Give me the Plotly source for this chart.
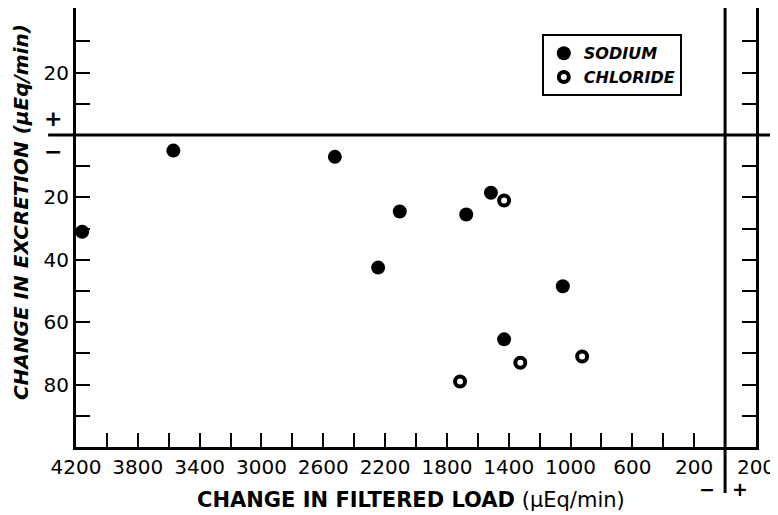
import plotly.graph_objects as go

# Data (change in filtered load, change in excretion; µEq/min; negative = decrease)
sodium_load = [-4160, -3570, -2525, -2245, -2105, -1675, -1515, -1050, -1430]
sodium_excr = [-31, -5, -7, -42.5, -24.5, -25.5, -18.5, -48.5, -65.5]
chloride_load = [-1430, -1325, -925, -1715]
chloride_excr = [-21, -73, -71, -79]

x_tickvals = list(range(-4200, 201, 200))
x_labels = {-4200: "4200", -3800: "3800", -3400: "3400", -3000: "3000", -2600: "2600",
            -2200: "2200", -1800: "1800", -1400: "1400", -1000: "1000", -600: "600",
            -200: "200", 200: "200"}
y_tickvals = [v for v in range(-90, 31, 10) if v != 0]
y_labels = {20: "20", -20: "20", -40: "40", -60: "60", -80: "80"}

FONT = "DejaVu Sans"

fig = go.Figure()
fig.add_trace(go.Scatter(x=sodium_load, y=sodium_excr, mode="markers", name="SODIUM",
                         marker=dict(symbol="circle", size=14, color="black")))
fig.add_trace(go.Scatter(x=chloride_load, y=chloride_excr, mode="markers", name="CHLORIDE",
                         marker=dict(symbol="circle-open", size=10, color="black",
                                     line=dict(width=4, color="black"))))

# page body adds an 8px offset; figure is sized to fit the window
fig.update_layout(
    width=770, height=507,
    margin=dict(l=68, r=22, t=0, b=68, pad=0, autoexpand=False),
    paper_bgcolor="white", plot_bgcolor="white",
    font=dict(family=FONT, color="black"),
    showlegend=True,
    legend=dict(x=0.685, y=0.94, xanchor="left", yanchor="top",
                bordercolor="black", borderwidth=2, bgcolor="white",
                font=dict(family=FONT, size=16, weight="bold", style="italic"),
                tracegroupgap=0),
    xaxis=dict(range=[-4200, 200], tickvals=x_tickvals,
               ticktext=[x_labels.get(v, "") for v in x_tickvals],
               ticks="inside", ticklen=14, tickwidth=2, tickcolor="black",
               showline=True, linewidth=3, linecolor="black", mirror=True,
               showgrid=False, zeroline=False, automargin=False,
               tickfont=dict(family=FONT, size=20)),
    yaxis=dict(range=[-100, 40.7], tickvals=y_tickvals,
               ticktext=[y_labels.get(v, "") for v in y_tickvals],
               ticks="inside", ticklen=14, tickwidth=2, tickcolor="black",
               showline=True, linewidth=3, linecolor="black", mirror="ticks",
               showgrid=False, zeroline=False, automargin=False,
               tickfont=dict(family=FONT, size=20)),
)

# zero lines extending beyond the frame
fig.add_shape(type="line", xref="paper", yref="y", x0=-0.041, x1=1.06, y0=0, y1=0,
              line=dict(color="black", width=3))
fig.add_shape(type="line", xref="x", yref="paper", x0=0, x1=0, y0=-0.105, y1=1.03,
              line=dict(color="black", width=3))

# sign annotations
for txt, yv in [("+", 5.4), ("\u2212", -5.4)]:
    fig.add_annotation(text="<b>%s</b>" % txt, xref="paper", yref="y", x=-0.034, y=yv,
                       xanchor="center", yanchor="middle",
                       showarrow=False, font=dict(family=FONT, size=22))
for txt, xv in [("\u2212", -116), ("+", 97)]:
    fig.add_annotation(text="<b>%s</b>" % txt, xref="x", yref="paper", x=xv, y=-0.0957,
                       xanchor="center", yanchor="middle",
                       showarrow=False, font=dict(family=FONT, size=19))

# axis titles
fig.add_annotation(text="<b>CHANGE IN FILTERED LOAD</b> (\u03bcEq/min)", xref="paper", yref="paper",
                   x=0.493, y=-0.121, xanchor="center", yanchor="middle", showarrow=False,
                   font=dict(family=FONT, size=21))
fig.add_annotation(text="<b><i>CHANGE IN EXCRETION (\u03bcEq/min)</i></b>", xref="paper", yref="paper",
                   x=-0.081, y=0.535, xanchor="center", yanchor="middle", showarrow=False,
                   textangle=-90, font=dict(family=FONT, size=20))

fig.write_html("out.html")
